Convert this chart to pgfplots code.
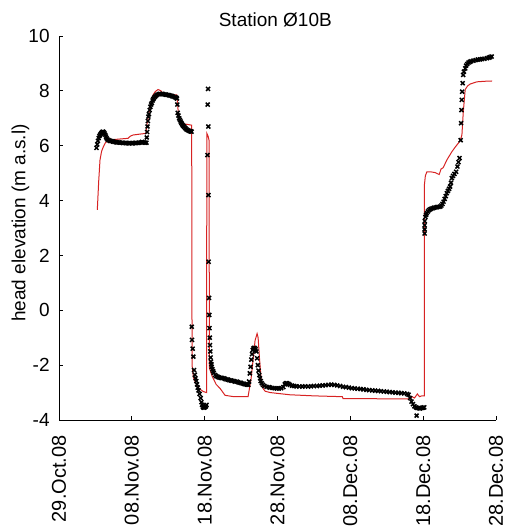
\documentclass[border=0pt]{standalone}
\usepackage{fontspec}
\setmainfont{Liberation Sans}
\usepackage{pgfplots}
\pgfplotsset{compat=1.18}
\definecolor{modelred}{RGB}{215,35,35}
\begin{document}
\begin{tikzpicture}
\begin{axis}[
  scale only axis, width=218.5pt, height=192pt,
  xmin=0, xmax=60, ymin=-4, ymax=10,
  axis x line=bottom, axis y line=left,
  axis line style={-, line width=0.5pt},
  tick align=inside, major tick length=2pt,
  tick style={black, line width=0.5pt},
  xtick={0,10,...,60},
  xticklabels={29.Oct.08,08.Nov.08,18.Nov.08,28.Nov.08,08.Dec.08,18.Dec.08,28.Dec.08},
  ytick={-4,-2,...,10},
  /pgf/number format/assume math mode=true,
  ticklabel style={font=\fontsize{9.5}{11}\selectfont},
  xticklabel style={rotate=90, anchor=east, inner sep=0pt, font=\fontsize{10}{11}\selectfont},
  xticklabel shift=7.5pt,
  yticklabel style={anchor=east, inner sep=0pt},
  yticklabel shift=4.5pt,
  ylabel={head elevation (m a.s.l)},
  every axis y label/.style={at={(axis description cs:-0.088,0.513)}, rotate=90, anchor=center, font=\fontsize{9.5}{11}\selectfont},
  title={Station Ø10B},
  every axis title/.style={at={(axis description cs:0.495,1)}, anchor=base, yshift=4.7pt, font=\fontsize{9.5}{11}\selectfont},
]
% model (red line)
\addplot[no markers, modelred, line width=0.5pt] coordinates {
(5.26,3.66) (5.45,4.7) (5.63,5.48) (5.85,5.8) (6.09,5.96) (6.35,6.1) (6.59,6.17) (7.28,6.22)
(9.48,6.27) (9.8,6.35) (10.16,6.39) (11.0,6.42) (11.95,6.45) (12.09,6.8) (12.5,7.4) (12.91,7.85)
(13.2,7.97) (13.6,8.05) (14.0,8.0) (14.29,7.9) (15.25,7.85) (16.17,7.85) (16.35,7.3) (16.62,6.83)
(17.31,6.79) (18.2,6.75) (18.23,5.05) (18.27,-2.0) (18.45,-2.45) (18.68,-2.6) (19.0,-2.78)
(19.37,-2.88) (19.8,-2.96) (20.26,-3.0) (20.3,6.45) (20.47,6.35) (20.6,6.2) (20.65,-2.1)
(21.02,-2.4) (21.57,-2.7) (22.12,-2.85) (22.8,-3.1) (24.0,-3.15) (25.96,-3.15) (26.37,-2.5)
(26.65,-1.8) (26.92,-1.1) (27.2,-0.85) (27.34,-1.0) (27.54,-1.8) (27.75,-2.5) (28.02,-2.85)
(28.3,-2.95) (29.0,-3.0) (31.7,-3.08) (35.0,-3.12) (38.9,-3.15) (39.0,-3.22) (48.0,-3.23)
(48.5,-3.15) (48.8,-3.2) (49.2,-3.05) (49.5,-3.15) (49.8,-3.12) (50.15,-3.12) (50.18,4.6)
(50.3,4.9) (50.51,5.05) (50.96,5.05) (51.65,5.02) (52.2,4.95) (52.45,5.15) (52.75,5.2)
(53.25,5.48) (53.94,5.78) (54.4,5.95) (54.85,6.1) (55.1,6.2) (55.32,6.39) (55.5,7.2)
(55.77,8.05) (56.1,8.18) (56.46,8.25) (57.38,8.33) (58.5,8.35) (59.48,8.36)
};
% observed (black crosses)
\addplot[only marks, mark=x, mark size=1.4pt, mark options={line width=0.75pt}, black] coordinates {
(5.15,5.92) (5.25,6.05) (5.35,6.18) (5.45,6.28) (5.55,6.35) (5.65,6.40) (5.75,6.44) (5.85,6.47)
(5.95,6.50) (6.05,6.51) (6.15,6.49) (6.25,6.45) (6.35,6.40) (6.45,6.33) (6.55,6.27) (6.65,6.23)
(6.8,6.20) (7.0,6.18) (7.2,6.17) (7.4,6.15) (7.6,6.14) (7.8,6.13) (8.0,6.12) (8.2,6.12)
(8.4,6.11) (8.6,6.11) (8.8,6.10) (9.0,6.10) (9.2,6.10) (9.4,6.09) (9.6,6.09) (9.8,6.10)
(10.0,6.09) (10.2,6.09) (10.4,6.10) (10.6,6.10) (10.8,6.10) (11.0,6.11) (11.2,6.12) (11.4,6.14)
(11.6,6.12) (11.8,6.11) (12.0,6.11)
(12.05,6.3) (12.1,6.5) (12.15,6.7) (12.2,6.9) (12.27,7.06) (12.35,7.15) (12.45,7.3) (12.55,7.42)
(12.65,7.5) (12.75,7.56) (12.85,7.65) (12.95,7.7) (13.05,7.75) (13.2,7.79) (13.35,7.83) (13.5,7.86)
(13.7,7.88) (13.9,7.89) (14.1,7.89) (14.3,7.88) (14.5,7.87) (14.7,7.86) (14.9,7.85) (15.1,7.84)
(15.3,7.83) (15.5,7.81) (15.7,7.79) (15.9,7.77) (16.1,7.75) (16.2,7.72) (16.25,7.5) (16.3,7.2)
(16.4,7.1) (16.5,7.0) (16.6,6.94) (16.7,6.88) (16.8,6.83) (16.9,6.78) (17.0,6.74) (17.1,6.71)
(17.2,6.68) (17.35,6.64) (17.5,6.6) (17.65,6.57) (17.8,6.55) (17.95,6.53) (18.1,6.52) (18.2,6.51)
(18.23,-0.6) (18.26,-1.08) (18.35,-1.4) (18.45,-1.69) (18.54,-2.18) (18.65,-2.35) (18.75,-2.48)
(18.85,-2.58) (18.95,-2.7) (19.05,-2.82) (19.15,-2.92) (19.3,-3.05) (19.45,-3.2) (19.55,-3.35)
(19.65,-3.45) (19.75,-3.52) (19.85,-3.55) (19.95,-3.55) (20.05,-3.52) (20.15,-3.5) (20.25,-3.45)
(20.38,5.66) (20.42,7.5) (20.46,8.07) (20.5,6.7) (20.52,4.2) (20.55,1.77) (20.6,0.45) (20.63,-0.17)
(20.66,-0.65) (20.7,-1.0) (20.73,-1.27) (20.77,-1.5) (20.82,-1.72) (20.87,-1.87) (20.92,-1.97)
(20.97,-2.06) (21.05,-2.15) (21.15,-2.22) (21.25,-2.28) (21.43,-2.36) (21.6,-2.4) (21.8,-2.43)
(22.0,-2.45) (22.2,-2.46) (22.4,-2.47) (22.6,-2.48) (22.8,-2.5) (23.0,-2.52) (23.2,-2.53)
(23.4,-2.55) (23.6,-2.56) (23.8,-2.57) (24.0,-2.58) (24.2,-2.6) (24.4,-2.6) (24.6,-2.62)
(24.8,-2.64) (25.0,-2.65) (25.2,-2.67) (25.4,-2.68) (25.6,-2.7) (25.8,-2.71) (26.0,-2.72)
(26.1,-2.6) (26.2,-2.3) (26.3,-2.06) (26.4,-1.8) (26.5,-1.6) (26.6,-1.45) (26.7,-1.39) (26.8,-1.37)
(26.9,-1.38) (27.0,-1.42) (27.1,-1.5) (27.2,-1.75) (27.3,-2.0) (27.4,-2.2) (27.5,-2.36) (27.6,-2.48)
(27.7,-2.58) (27.84,-2.66) (28.0,-2.72) (28.2,-2.76) (28.5,-2.79) (28.8,-2.8) (29.0,-2.82)
(29.3,-2.83) (29.6,-2.84) (29.9,-2.85) (30.2,-2.85) (30.5,-2.84) (30.8,-2.8) (31.0,-2.7)
(31.15,-2.66) (31.3,-2.66) (31.5,-2.68) (31.7,-2.72) (32.0,-2.75) (32.3,-2.76) (32.6,-2.77)
(33.0,-2.78) (33.4,-2.78) (33.8,-2.77) (34.2,-2.78) (34.6,-2.77) (35.0,-2.76) (35.4,-2.76)
(35.8,-2.75) (36.2,-2.74) (36.6,-2.73) (37.0,-2.72) (37.4,-2.71) (37.8,-2.72) (38.2,-2.74)
(38.6,-2.76) (39.0,-2.79) (39.4,-2.8) (39.8,-2.82) (40.2,-2.84) (40.6,-2.85) (41.0,-2.86)
(41.4,-2.87) (41.8,-2.88) (42.2,-2.9) (42.6,-2.91) (43.0,-2.92) (43.4,-2.93) (43.8,-2.94)
(44.2,-2.95) (44.6,-2.96) (45.0,-2.97) (45.4,-2.98) (45.8,-2.99) (46.2,-3.0) (46.6,-3.01)
(47.0,-3.02) (47.4,-3.03) (47.8,-3.05) (48.0,-3.08) (48.2,-3.2) (48.4,-3.33) (48.6,-3.42)
(48.8,-3.5) (49.0,-3.54) (49.1,-3.84) (49.2,-3.56) (49.4,-3.57) (49.6,-3.58) (49.8,-3.56)
(50.0,-3.55) (50.15,-3.54)
(50.2,2.8) (50.2,2.95) (50.2,3.1) (50.22,3.25) (50.3,3.4) (50.4,3.48) (50.5,3.54) (50.65,3.6)
(50.8,3.65) (50.96,3.68) (51.1,3.7) (51.3,3.72) (51.5,3.74) (51.7,3.75) (51.9,3.76) (52.1,3.77)
(52.34,3.78) (52.5,3.82) (52.65,3.88) (52.8,3.96) (52.95,4.06) (53.1,4.16) (53.25,4.27) (53.4,4.35)
(53.55,4.43) (53.7,4.51) (53.82,4.65) (53.94,4.82) (54.1,4.9) (54.3,4.97) (54.53,5.05) (54.7,5.24)
(54.85,5.4) (55.0,5.55)
(55.15,6.2) (55.2,6.82) (55.25,7.3) (55.3,7.67) (55.35,7.97) (55.42,8.28) (55.5,8.58) (55.6,8.7)
(55.77,8.82) (55.9,8.92) (56.05,8.98) (56.23,9.03) (56.4,9.06) (56.6,9.08) (56.9,9.1) (57.2,9.12)
(57.5,9.14) (57.8,9.15) (58.1,9.16) (58.4,9.17) (58.75,9.19) (59.0,9.21) (59.2,9.23) (59.4,9.25)
};
\end{axis}
\pgfresetboundingbox
\path ([shift={(-29.5pt,-55pt)}]current axis.south west) rectangle ([shift={(5pt,18pt)}]current axis.north east);
\end{tikzpicture}
\end{document}
